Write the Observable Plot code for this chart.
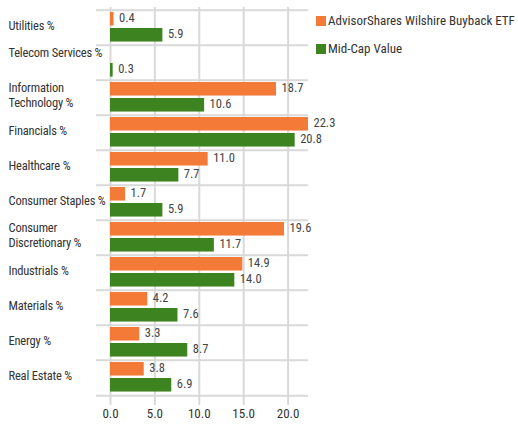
<!DOCTYPE html>
<html>
<head>
<meta charset="utf-8">
<script src="https://cdn.jsdelivr.net/npm/d3@7"></script>
<script src="https://cdn.jsdelivr.net/npm/@observablehq/plot@0.6"></script>
<style>
  html, body { margin: 0; padding: 0; background: #fff; }
  #wrap { position: relative; width: 518px; height: 427px; font-family: Roboto, "Liberation Sans", sans-serif; font-stretch: 80%; }
  #wrap svg text { font-stretch: 80%; }
  .legend { position: absolute; left: 316px; font-size: 13px; color: #333; display: flex; align-items: center; white-space: nowrap; }
  .legend span.sw { display: inline-block; width: 10px; height: 10px; margin-right: 2px; }
  .ylab text { letter-spacing: -0.2px; }
</style>
</head>
<body>
<div id="wrap"></div>
<script>
const categories = ["Utilities %", "Telecom Services %", "Information Technology %", "Financials %", "Healthcare %", "Consumer Staples %", "Consumer Discretionary %", "Industrials %", "Materials %", "Energy %", "Real Estate %"];
const categoryLabels = ["Utilities %", "Telecom Services %\n", "Information\nTechnology %", "Financials %", "Healthcare %", "Consumer Staples %", "Consumer\nDiscretionary %", "Industrials %", "Materials %", "Energy %", "Real Estate %"];
const seriesNames = ["AdvisorShares Wilshire Buyback ETF", "Mid-Cap Value"];
const fundValues = [0.4, null, 18.7, 22.3, 11.0, 1.7, 19.6, 14.9, 4.2, 3.3, 3.8];
const benchValues = [5.9, 0.3, 10.6, 20.8, 7.7, 5.9, 11.7, 14.0, 7.6, 8.7, 6.9];
const xTicks = [0, 5, 10, 15, 20];
const colors = ["#F47A38", "#3D8420"];

const fund = categories.map((c, i) => ({category: c, value: fundValues[i]})).filter(d => d.value != null);
const bench = categories.map((c, i) => ({category: c, value: benchValues[i]}));
const labelOf = new Map(categories.map((c, i) => [c, categoryLabels[i]]));

const W = 518, H = 427, mt = 7, mb = 30, ml = 110, mr = 210;
const bw = (H - mt - mb) / categories.length;
const grid = "#d9d9d9";
const font = 'Roboto, "Liberation Sans", sans-serif';

const chart = Plot.plot({
  width: W, height: H,
  marginTop: mt, marginBottom: mb, marginLeft: ml, marginRight: mr,
  style: {fontFamily: font, fontSize: "12px", color: "#444", background: "#fff", fontStretch: "80%"},
  x: {domain: [0, 22.3]},
  y: {domain: categories, padding: 0},
  marks: [
    Plot.ruleX(xTicks, {stroke: grid, strokeWidth: 2, insetBottom: -8}),
    Plot.ruleY(categories, {y: d => d, dy: -bw / 2, stroke: grid, strokeWidth: 2, insetLeft: -14}),
    Plot.ruleY(categories.slice(-1), {y: d => d, dy: bw / 2, stroke: grid, strokeWidth: 2, insetLeft: -14}),
    Plot.barX(fund, {y: "category", x: "value", fill: colors[0], insetTop: 2, insetBottom: bw - 16}),
    Plot.barX(bench, {y: "category", x: "value", fill: colors[1], insetTop: 18, insetBottom: bw - 32}),
    Plot.text(fund, {y: "category", x: "value", text: d => d.value.toFixed(1), textAnchor: "start", dx: 5, dy: 8 - bw / 2, fill: "#444", fontSize: 12.5}),
    Plot.text(bench, {y: "category", x: "value", text: d => d.value.toFixed(1), textAnchor: "start", dx: 5, dy: 24 - bw / 2, fill: "#444", fontSize: 12.5}),
    Plot.axisY({tickSize: 0, textAnchor: "start", dx: -(ml - 8) + 9, dy: -3, tickFormat: d => labelOf.get(d), fill: "#333", fontSize: 12.5, lineHeight: 1.2, label: null, className: "ylab"}),
    Plot.axisX({ticks: xTicks, tickSize: 0, tickPadding: 11, tickFormat: d => d.toFixed(1), fill: "#333", fontSize: 13, label: null})
  ]
});

const wrap = document.getElementById("wrap");
wrap.appendChild(chart);
const tops = [13, 41];
seriesNames.forEach((name, i) => {
  const el = document.createElement("div");
  el.className = "legend";
  el.style.top = tops[i] + "px";
  el.innerHTML = `<span class="sw" style="background:${colors[i]}"></span>${name}`;
  wrap.appendChild(el);
});
</script>
</body>
</html>
